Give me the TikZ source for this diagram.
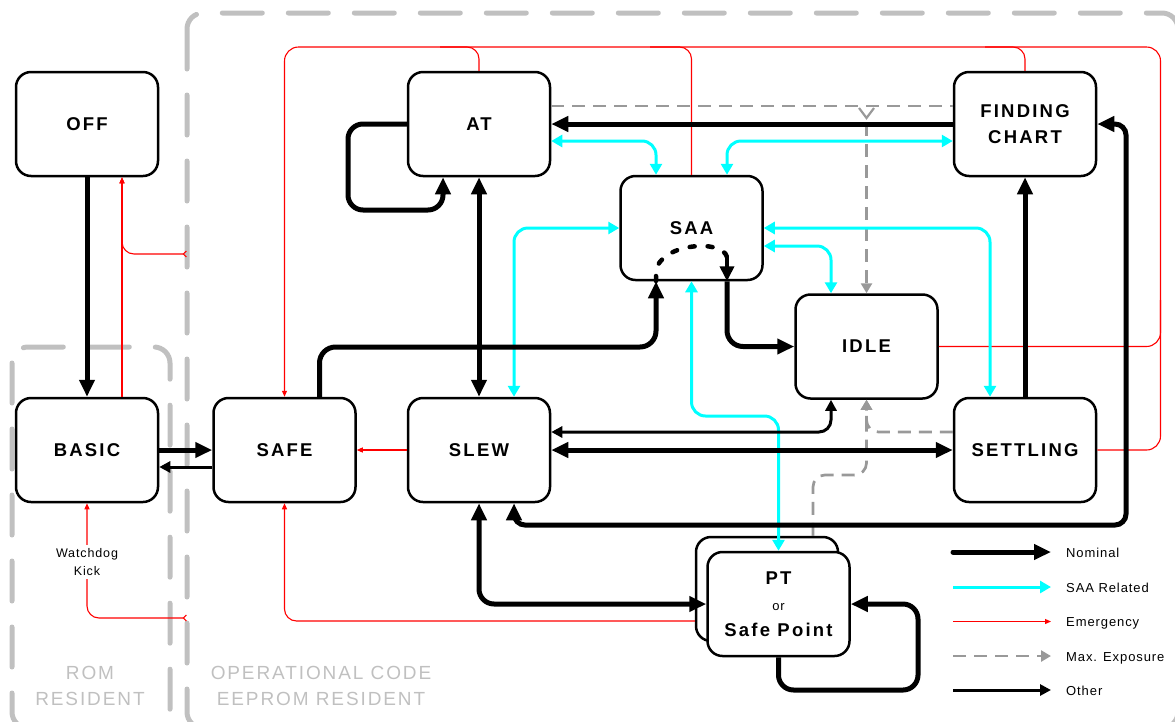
\documentclass[tikz,border=0pt]{standalone}
\usepackage{fontspec}
\setmainfont{Liberation Sans}
\newfontfamily\statefont[LetterSpace=12]{Liberation Sans}
\newfontfamily\smallfont[LetterSpace=7]{Liberation Sans}
\newfontfamily\zonefont[LetterSpace=10]{Liberation Sans}
\usetikzlibrary{arrows.meta}

\definecolor{zonegray}{HTML}{C0C0C0}
\definecolor{expgray}{HTML}{999999}
\definecolor{saacyan}{HTML}{00FFFF}
\definecolor{emgred}{HTML}{FF0000}

\tikzset{
  nomtip/.tip={Triangle[length=17pt,width=15pt]},
  othtip/.tip={Triangle[length=11pt,width=11pt]},
  saatip/.tip={Triangle[length=11pt,width=12pt]},
  emgtip/.tip={Triangle[length=6pt,width=5pt]},
  exptip/.tip={Triangle[length=10pt,width=11pt]},
  tailtip/.tip={Straight Barb[reversed,length=3pt,width=6pt]},
  state/.style={draw, line width=2.5pt, rounded corners=15pt, fill=white,
    minimum width=142pt, minimum height=104pt, inner sep=0pt, align=center,
    font=\statefont\bfseries\fontsize{18.5}{26}\selectfont},
  zone/.style={draw=zonegray, line width=5pt, line cap=round,
    dash pattern=on 40pt off 26pt, rounded corners=16pt},
  zonelabel/.style={text=zonegray, align=center, inner sep=0pt,
    font=\zonefont\fontsize{19}{26}\selectfont},
  nominal/.style={line width=5pt, -nomtip},
  nominal both/.style={line width=5pt, nomtip-nomtip},
  other/.style={line width=3pt, -othtip},
  other both/.style={line width=3pt, othtip-othtip},
  saa/.style={draw=saacyan, line width=3pt, -saatip},
  saa both/.style={draw=saacyan, line width=3pt, saatip-saatip},
  emergency/.style={draw=emgred, line width=1.1pt, -emgtip},
  emergency line/.style={draw=emgred, line width=1.1pt},
  emergency tail/.style={draw=emgred, line width=1.1pt, tailtip-emgtip},
  exposure/.style={draw=expgray, line width=2.7pt, dash pattern=on 13pt off 8pt, -exptip},
  exposure line/.style={draw=expgray, line width=2.7pt, dash pattern=on 13pt off 8pt},
  legendtext/.style={anchor=base west, inner sep=0pt,
    font=\smallfont\fontsize{13}{15}\selectfont},
}

\begin{document}
\begin{tikzpicture}[x=1pt,y=-1pt]
\useasboundingbox (0,0) rectangle (1175,721);

% memory zones
\begin{scope}
  \clip (0,0) rectangle (1175,721);
  \draw[zone] (187,13) rectangle (1178,728);
  \draw[zone] (12,347) rectangle (170,728);
\end{scope}
\node[zonelabel] (romlabel) at (90,686) {ROM\\RESIDENT};
\node[zonelabel] (eeplabel) at (321,686) {OPERATIONAL CODE\\EEPROM RESIDENT};

% states
\node[state] (OFF)   at (87,124)     {OFF};
\node[state] (BASIC) at (87,450)     {BASIC};
\node[state] (SAFE)  at (284.5,450)  {SAFE};
\node[state] (SLEW)  at (479,450)    {SLEW};
\node[state] (AT)    at (479,124)    {AT};
\node[state] (SAA)   at (691.5,228)  {SAA};
\node[state] (IDLE)  at (866.5,346.5){IDLE};
\node[state] (FC)    at (1025,124)   {FINDING\\CHART};
\node[state] (SET)   at (1025,450)   {SETTLING};
\node[state] (PTB)   at (767,589)    {};
\node[state] (PT)    at (778.5,604)  {PT\\{\smallfont\fontsize{13}{26}\selectfont\mdseries or}\\Safe Point};

% emergency transitions
\coordinate (offtap) at (187,254);
\coordinate (wdtap)  at (187,618);
\draw[emergency] ([xshift=35pt]BASIC.north) -- ([xshift=35pt]OFF.south);
\draw[emergency tail, rounded corners=12pt] (offtap) -| ([xshift=35pt]OFF.south);
\draw[emergency tail, rounded corners=12pt] (wdtap) -| (BASIC.south);
\node[fill=white, align=center, inner sep=3pt,
      font=\smallfont\fontsize{12.5}{18}\selectfont] (wdog) at (87,562) {Watchdog\\Kick};
\draw[emergency] (SLEW.west) -- (SAFE.east);
\draw[emergency, rounded corners=12pt] ([yshift=-32pt]PTB.west) -| (SAFE.south);
\draw[emergency, rounded corners=14pt] (SET.east) -| (1160.5,47) -| (SAFE.north);
\draw[emergency line, rounded corners=14pt] (IDLE.east) -| (1160.5,300);
\draw[emergency line, rounded corners=12pt] (AT.north) |- (440,47);
\draw[emergency line, rounded corners=12pt] (SAA.north) |- (650,47);
\draw[emergency line, rounded corners=12pt] (FC.north) |- (985,47);

% maximum exposure transitions
\draw[exposure line] ([yshift=18pt]AT.east) -- ([yshift=18pt]FC.west);
\draw[draw=expgray, line width=2.2pt] (859,108) -- (866.5,118) -- (874,108);
\draw[exposure] (866.5,123) -- (IDLE.north);
\draw[exposure, rounded corners=12pt] ([yshift=18pt]SET.west) -| (IDLE.south);
\draw[exposure, rounded corners=12pt] ([xshift=46pt]PTB.north) -- (813,475) -| (IDLE.south);

% SAA related transitions
\draw[saa both, rounded corners=14pt] ([xshift=35pt]SLEW.north) |- (SAA.west);
\draw[saa both, rounded corners=14pt] ([yshift=-17pt]AT.east) -| ([xshift=-35.5pt]SAA.north);
\draw[saa both, rounded corners=14pt] ([xshift=35.5pt]SAA.north) |- ([yshift=-17pt]FC.west);
\draw[saa both, rounded corners=14pt] (SAA.east) -| ([xshift=-35pt]SET.north);
\draw[saa both, rounded corners=14pt] ([yshift=-18pt]SAA.east) -| ([xshift=-35.5pt]IDLE.north);
\draw[saa both, rounded corners=14pt] (SAA.south) -- (691.5,416) -- (778.5,416) -- (PT.north);

% other transitions
\draw[other] ([yshift=-17pt]SAFE.west) -- ([yshift=-17pt]BASIC.east);
\draw[other both, rounded corners=12pt] ([yshift=18pt]SLEW.east) -| ([xshift=-35.5pt]IDLE.south);

% nominal transitions
\draw[nominal] (OFF.south) -- (BASIC.north);
\draw[nominal] (BASIC.east) -- (SAFE.west);
\draw[nominal, rounded corners=15pt] (AT.west) -- (348,124) -- (348,210) -- (443,210) -- ([xshift=-36pt]AT.south);
\draw[nominal both] (AT.south) -- (SLEW.north);
\draw[nominal] (FC.west) -- (AT.east);
\draw[nominal, rounded corners=16pt] ([xshift=35pt]SAFE.north) -- (319.5,347) -- (656,347) -- ([xshift=-35.5pt]SAA.south);
\draw[line width=4.5pt, line cap=round, dash pattern=on 5pt off 13pt]
  (656,281) -- (656,272) .. controls (658,244) and (722,238) .. (727,257);
\draw[line width=4.5pt, -{Triangle[length=15pt,width=14pt]}] (727,257) -- ([xshift=35.5pt]SAA.south);
\draw[nominal, rounded corners=16pt] ([xshift=35.5pt]SAA.south) |- (IDLE.west);
\draw[nominal both] (SLEW.east) -- (SET.west);
\draw[nominal] (SET.north) -- (FC.south);
\draw[nominal both, rounded corners=11pt] (FC.east) -- (1126,124) -- (1126,525) -- (514,525) -- ([xshift=35pt]SLEW.south);
\draw[nominal both, rounded corners=15pt] (SLEW.south) |- (PT.west);
\draw[nominal, rounded corners=15pt] (PT.south) -- (778.5,690) -- (918,690) -- (918,604) -- (PT.east);

% legend
\coordinate (lgA1) at (953,552);   \coordinate (lgB1) at (1051,552);
\coordinate (lgA2) at (953,587);   \coordinate (lgB2) at (1051,587);
\coordinate (lgA3) at (953,621.5); \coordinate (lgB3) at (1051,621.5);
\coordinate (lgA4) at (953,656);   \coordinate (lgB4) at (1051,656);
\coordinate (lgA5) at (953,690);   \coordinate (lgB5) at (1051,690);
\draw[nominal, line cap=round] (lgA1) -- (lgB1);
\draw[saa] (lgA2) -- (lgB2);
\draw[emergency] (lgA3) -- (lgB3);
\draw[exposure] (lgA4) -- (lgB4);
\draw[other] (lgA5) -- (lgB5);
\node[legendtext] (lgT1) at (1066,557)   {Nominal};
\node[legendtext] (lgT2) at (1066,592)   {SAA Related};
\node[legendtext] (lgT3) at (1066,626.5) {Emergency};
\node[legendtext] (lgT4) at (1066,661)   {Max. Exposure};
\node[legendtext] (lgT5) at (1066,695)   {Other};
\end{tikzpicture}
\end{document}
